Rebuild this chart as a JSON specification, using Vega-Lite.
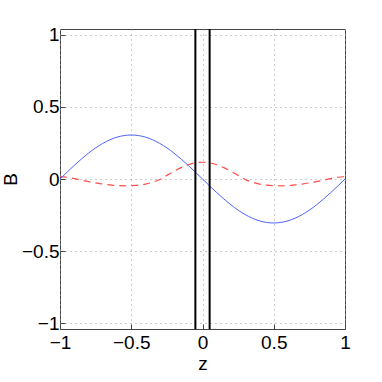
{
  "$schema": "https://vega.github.io/schema/vega-lite/v6.json",
  "width": 285,
  "height": 300,
  "autosize": "none",
  "padding": {"left": 60, "top": 29, "right": 37, "bottom": 53},
  "background": "white",
  "config": {
    "font": "Liberation Sans",
    "view": {"stroke": "#444444", "strokeWidth": 1},
    "axis": {
      "grid": true,
      "gridDash": [1, 4],
      "gridColor": "#9a9a9a",
      "gridWidth": 1,
      "domain": false,
      "tickColor": "#444444",
      "tickSize": -5,
      "format": "~g",
      "labelFont": "Liberation Sans",
      "labelFontSize": 19,
      "labelColor": "black",
      "titleFont": "Liberation Sans",
      "titleFontSize": 19,
      "titleFontWeight": "normal",
      "titleColor": "black"
    }
  },
  "datasets": {
    "blue": [
      {"z": -1.0, "B": 0.0}, {"z": -0.95, "B": 0.0477}, {"z": -0.9, "B": 0.0942}, {"z": -0.85, "B": 0.1385},
      {"z": -0.8, "B": 0.1793}, {"z": -0.75, "B": 0.2157}, {"z": -0.7, "B": 0.2467}, {"z": -0.65, "B": 0.2718},
      {"z": -0.6, "B": 0.2901}, {"z": -0.55, "B": 0.3012}, {"z": -0.5, "B": 0.305}, {"z": -0.45, "B": 0.3012},
      {"z": -0.4, "B": 0.2901}, {"z": -0.35, "B": 0.2718}, {"z": -0.3, "B": 0.2467}, {"z": -0.25, "B": 0.2157},
      {"z": -0.2, "B": 0.1793}, {"z": -0.15, "B": 0.1385}, {"z": -0.1, "B": 0.0942}, {"z": -0.05, "B": 0.0477},
      {"z": 0.0, "B": 0.0}, {"z": 0.05, "B": -0.0477}, {"z": 0.1, "B": -0.0942}, {"z": 0.15, "B": -0.1385},
      {"z": 0.2, "B": -0.1793}, {"z": 0.25, "B": -0.2157}, {"z": 0.3, "B": -0.2467}, {"z": 0.35, "B": -0.2718},
      {"z": 0.4, "B": -0.2901}, {"z": 0.45, "B": -0.3012}, {"z": 0.5, "B": -0.305}, {"z": 0.55, "B": -0.3012},
      {"z": 0.6, "B": -0.2901}, {"z": 0.65, "B": -0.2718}, {"z": 0.7, "B": -0.2467}, {"z": 0.75, "B": -0.2157},
      {"z": 0.8, "B": -0.1793}, {"z": 0.85, "B": -0.1385}, {"z": 0.9, "B": -0.0942}, {"z": 0.95, "B": -0.0477},
      {"z": 1.0, "B": 0.0}
    ],
    "red": [
      {"z": -1.0, "B": 0.016}, {"z": -0.95, "B": 0.012}, {"z": -0.9, "B": 0.003}, {"z": -0.85, "B": -0.008},
      {"z": -0.8, "B": -0.018}, {"z": -0.75, "B": -0.027}, {"z": -0.7, "B": -0.035}, {"z": -0.65, "B": -0.041},
      {"z": -0.6, "B": -0.046}, {"z": -0.55, "B": -0.047}, {"z": -0.5, "B": -0.046}, {"z": -0.45, "B": -0.043},
      {"z": -0.4, "B": -0.035}, {"z": -0.35, "B": -0.022}, {"z": -0.3, "B": -0.003}, {"z": -0.25, "B": 0.025},
      {"z": -0.2, "B": 0.053}, {"z": -0.15, "B": 0.079}, {"z": -0.1, "B": 0.099}, {"z": -0.05, "B": 0.112},
      {"z": 0.0, "B": 0.116}, {"z": 0.05, "B": 0.112}, {"z": 0.1, "B": 0.099}, {"z": 0.15, "B": 0.079},
      {"z": 0.2, "B": 0.053}, {"z": 0.25, "B": 0.025}, {"z": 0.3, "B": -0.003}, {"z": 0.35, "B": -0.022},
      {"z": 0.4, "B": -0.035}, {"z": 0.45, "B": -0.043}, {"z": 0.5, "B": -0.046}, {"z": 0.55, "B": -0.047},
      {"z": 0.6, "B": -0.046}, {"z": 0.65, "B": -0.041}, {"z": 0.7, "B": -0.035}, {"z": 0.75, "B": -0.027},
      {"z": 0.8, "B": -0.018}, {"z": 0.85, "B": -0.008}, {"z": 0.9, "B": 0.003}, {"z": 0.95, "B": 0.012},
      {"z": 1.0, "B": 0.016}
    ],
    "walls": [{"z": -0.05}, {"z": 0.05}]
  },
  "layer": [
    {
      "data": {"name": "red"},
      "mark": {"type": "line", "color": "#ff4d4d", "strokeWidth": 1.2, "strokeDash": [7, 5], "interpolate": "monotone"},
      "encoding": {
        "x": {"field": "z", "type": "quantitative", "scale": {"domain": [-1, 1], "nice": false, "zero": false},
          "axis": {"values": [-1, -0.5, 0, 0.5, 1], "title": "z", "labelPadding": 9, "titlePadding": 2, "labelFlush": false}},
        "y": {"field": "B", "type": "quantitative", "scale": {"domain": [-1.04, 1.04], "nice": false, "zero": false},
          "axis": {"values": [-1, -0.5, 0, 0.5, 1], "title": "B", "labelPadding": 6, "titlePadding": 1}}
      }
    },
    {
      "data": {"name": "blue"},
      "mark": {"type": "line", "color": "#4d63ff", "strokeWidth": 1, "interpolate": "monotone"},
      "encoding": {
        "x": {"field": "z", "type": "quantitative"},
        "y": {"field": "B", "type": "quantitative"}
      }
    },
    {
      "data": {"name": "walls"},
      "mark": {"type": "rule", "color": "black", "strokeWidth": 2},
      "encoding": {
        "x": {"field": "z", "type": "quantitative"}
      }
    }
  ]
}
